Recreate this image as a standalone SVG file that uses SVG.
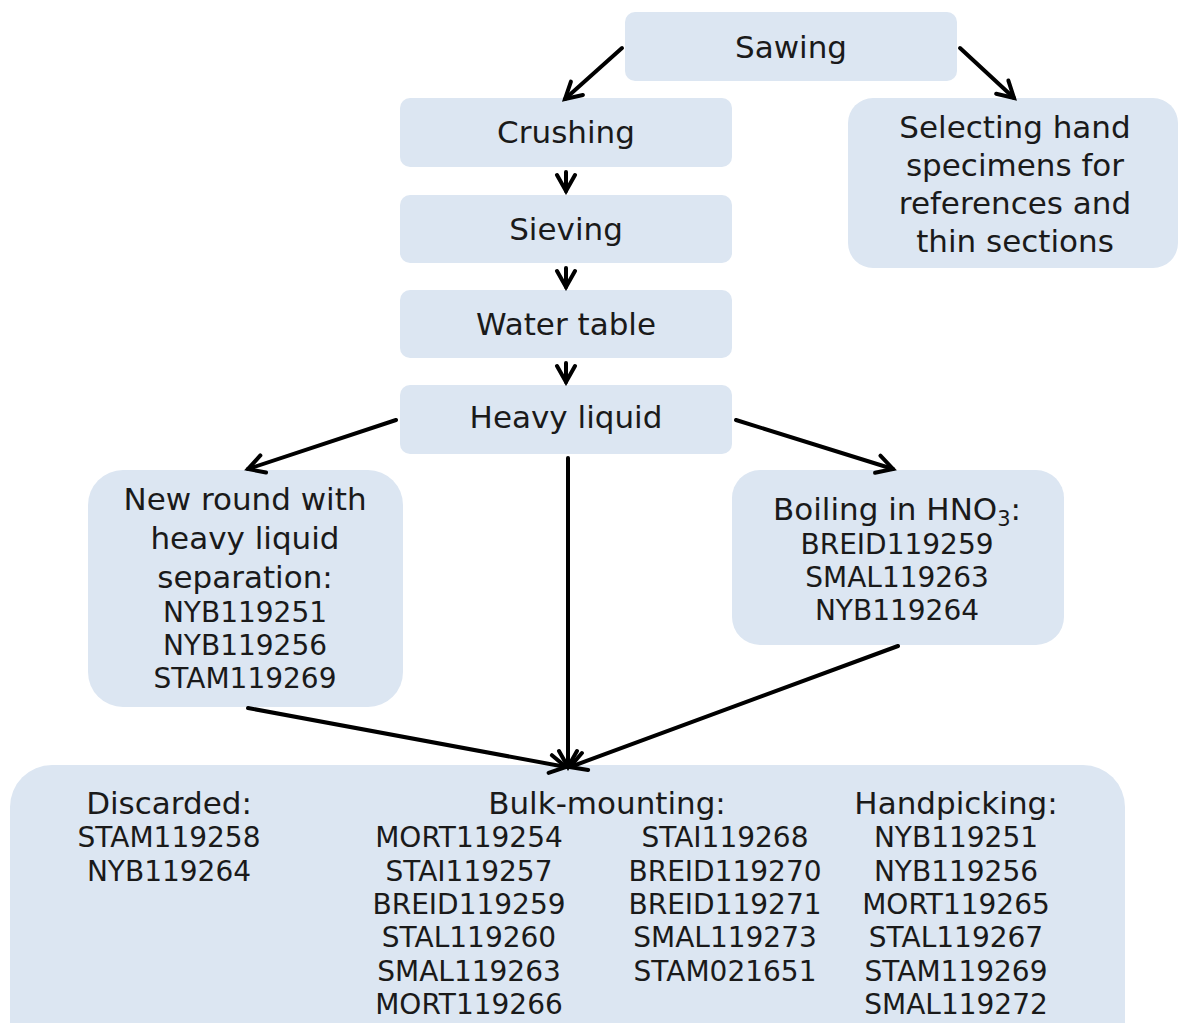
<svg xmlns="http://www.w3.org/2000/svg" width="1178" height="1023" viewBox="0 0 1178 1023">
<defs>
<style>
.box{fill:#dce6f2;}
text{font-family:"DejaVu Sans","Liberation Sans",sans-serif;fill:#1a1a1a;text-anchor:middle;}
.big{font-size:31px;}
.code{font-size:28px;}
.conn line{stroke:#000;stroke-width:4;stroke-linecap:round;marker-end:url(#ah);}
</style>
<marker id="ah" viewBox="0 0 26 26" refX="22" refY="13" markerWidth="26" markerHeight="26" markerUnits="userSpaceOnUse" orient="auto">
<path d="M6,4 L22,13 L6,22" fill="none" stroke="#000" stroke-width="4" stroke-linecap="round" stroke-linejoin="miter"/>
</marker>
</defs>
<rect width="1178" height="1023" fill="#fff"/>
<g id="sawing"><rect class="box" x="625" y="12" width="332" height="69" rx="10"/><text class="big" x="791" y="58">Sawing</text></g>
<g id="crushing"><rect class="box" x="400" y="98" width="332" height="69" rx="10"/><text class="big" x="566" y="143">Crushing</text></g>
<g id="sieving"><rect class="box" x="400" y="195" width="332" height="68" rx="10"/><text class="big" x="566" y="240">Sieving</text></g>
<g id="water-table"><rect class="box" x="400" y="290" width="332" height="68" rx="10"/><text class="big" x="566" y="335">Water table</text></g>
<g id="heavy-liquid"><rect class="box" x="400" y="385" width="332" height="69" rx="10"/><text class="big" x="566" y="428">Heavy liquid</text></g>
<g id="selecting"><rect class="box" x="848" y="98" width="330" height="170" rx="25"/>
<text class="big" x="1015" y="138">Selecting hand</text>
<text class="big" x="1015" y="176">specimens for</text>
<text class="big" x="1015" y="214">references and</text>
<text class="big" x="1015" y="252">thin sections</text></g>
<g id="new-round"><rect class="box" x="88" y="470" width="315" height="237" rx="35"/>
<text class="big" x="245" y="510">New round with</text>
<text class="big" x="245" y="549">heavy liquid</text>
<text class="big" x="245" y="588">separation:</text>
<text class="code" x="245" y="622">NYB119251</text>
<text class="code" x="245" y="655">NYB119256</text>
<text class="code" x="245" y="688">STAM119269</text></g>
<g id="boiling"><rect class="box" x="732" y="470" width="332" height="175" rx="28"/>
<text class="big" x="897" y="520">Boiling in HNO<tspan font-size="21" dy="6">3</tspan><tspan dy="-6">:</tspan></text>
<text class="code" x="897" y="554">BREID119259</text>
<text class="code" x="897" y="587">SMAL119263</text>
<text class="code" x="897" y="620">NYB119264</text></g>
<g id="results"><rect class="box" x="10" y="765" width="1115" height="300" rx="42"/>
<text class="big" x="169" y="814">Discarded:</text>
<text class="code" x="169" y="847">STAM119258</text>
<text class="code" x="169" y="881">NYB119264</text>
<text class="big" x="607" y="814">Bulk-mounting:</text>
<text class="code" x="469" y="847">MORT119254</text>
<text class="code" x="469" y="881">STAI119257</text>
<text class="code" x="469" y="914">BREID119259</text>
<text class="code" x="469" y="947">STAL119260</text>
<text class="code" x="469" y="981">SMAL119263</text>
<text class="code" x="469" y="1014">MORT119266</text>
<text class="code" x="725" y="847">STAI119268</text>
<text class="code" x="725" y="881">BREID119270</text>
<text class="code" x="725" y="914">BREID119271</text>
<text class="code" x="725" y="947">SMAL119273</text>
<text class="code" x="725" y="981">STAM021651</text>
<text class="big" x="956" y="814">Handpicking:</text>
<text class="code" x="956" y="847">NYB119251</text>
<text class="code" x="956" y="881">NYB119256</text>
<text class="code" x="956" y="914">MORT119265</text>
<text class="code" x="956" y="947">STAL119267</text>
<text class="code" x="956" y="981">STAM119269</text>
<text class="code" x="956" y="1014">SMAL119272</text></g>
<g id="connectors" class="conn">
<line x1="622" y1="48" x2="565" y2="99"/>
<line x1="960" y1="48" x2="1014" y2="98"/>
<line x1="566" y1="172" x2="566" y2="191"/>
<line x1="566" y1="268" x2="566" y2="287"/>
<line x1="566" y1="363" x2="566" y2="382"/>
<line x1="396" y1="420" x2="248" y2="469"/>
<line x1="736" y1="420" x2="893" y2="469"/>
<line x1="568" y1="458" x2="568" y2="767"/>
<line x1="248" y1="708" x2="566" y2="767"/>
<line x1="898" y1="646" x2="570" y2="767"/>
</g>
</svg>
